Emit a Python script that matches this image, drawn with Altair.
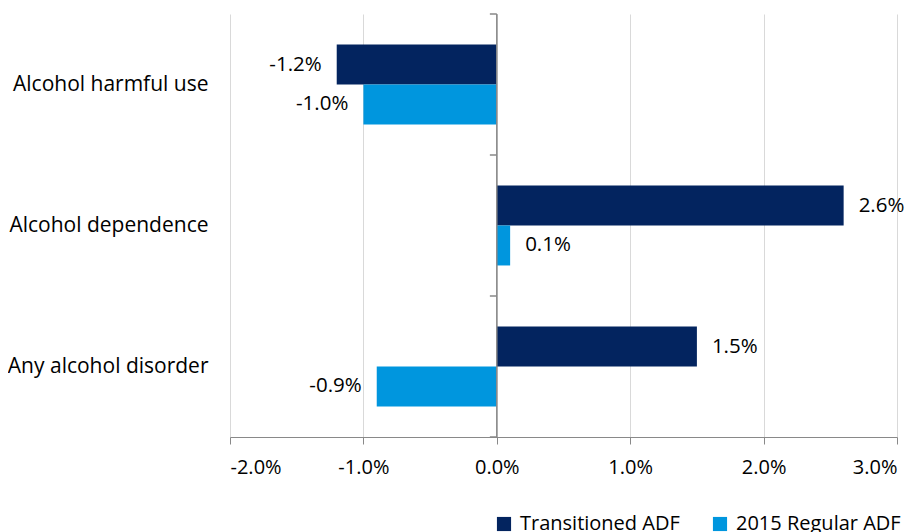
import altair as alt
import pandas as pd

categories = ["Alcohol harmful use", "Alcohol dependence", "Any alcohol disorder"]
series = ["Transitioned ADF", "2015 Regular ADF"]
transitioned = [-1.2, 2.6, 1.5]
regular = [-1.0, 0.1, -0.9]
colors = ["#03245F", "#0096DE"]
x_ticks = [-0.02, -0.01, 0.0, 0.01, 0.02, 0.03]

rows = []
for c, t, r in zip(categories, transitioned, regular):
    rows.append({"category": c, "series": series[0], "value": t / 100, "label": f"{t:.1f}%"})
    rows.append({"category": c, "series": series[1], "value": r / 100, "label": f"{r:.1f}%"})
df = pd.DataFrame(rows)

FONT = "Open Sans"
FS_AX = 20
FS_CAT = 21
FS_LBL = 20.5
FS_LEG = 20

xenc = alt.X(
    "value:Q",
    scale=alt.Scale(domain=[-0.02, 0.03], nice=False, zero=False),
    axis=alt.Axis(
        values=x_ticks, title=None, grid=True, gridColor="#d9d9d9",
        labelExpr="replace(format(datum.value, '.1%'), '\u2212', '-')",
        domainColor="#898989", tickColor="#898989", tickSize=7, labelPadding=13,
        labelFont=FONT, labelFontSize=FS_AX, labelColor="#000000",
    ),
)
yenc = alt.Y(
    "category:N", sort=categories,
    scale=alt.Scale(paddingInner=0.433, paddingOuter=0.2165),
    axis=alt.Axis(
        title=None, domain=False, ticks=False, labelPadding=22, labelFont=FONT,
        labelFontSize=FS_CAT, labelColor="#000000", grid=False, labelLimit=400,
    ),
)
yoff = alt.YOffset("series:N", sort=series, scale=alt.Scale(paddingInner=0, paddingOuter=0))

base = alt.Chart(df)

bars = base.mark_bar().encode(
    x=xenc,
    y=yenc,
    yOffset=yoff,
    color=alt.Color(
        "series:N", sort=series,
        scale=alt.Scale(domain=series, range=colors),
        legend=alt.Legend(
            title=None, orient="none", legendX=264, legendY=500, direction="horizontal",
            symbolType="square", symbolSize=200, symbolStrokeWidth=0, labelFont=FONT,
            labelFontSize=FS_LEG, labelColor="#000000", columnPadding=30, labelOffset=6,
            labelLimit=400,
        ),
    ),
)

pos_text = base.transform_filter("datum.value >= 0").mark_text(
    align="left", baseline="middle", dx=15, font=FONT, fontSize=FS_LBL, color="#000000"
).encode(x="value:Q", y=alt.Y("category:N", sort=categories), yOffset=yoff, text="label:N")

neg_text = base.transform_filter("datum.value < 0").mark_text(
    align="right", baseline="middle", dx=-15, font=FONT, fontSize=FS_LBL, color="#000000"
).encode(x="value:Q", y=alt.Y("category:N", sort=categories), yOffset=yoff, text="label:N")

main = alt.layer(bars, pos_text, neg_text)

zero_line = alt.Chart(pd.DataFrame({"z": [0.0]})).mark_rule(color="#898989", strokeWidth=1.5).encode(
    x=alt.X("z:Q")
)

bounds = pd.DataFrame({"b": [0, 1, 2, 3], "x0": [0.0] * 4, "x1": [-0.00052] * 4})
zero_ticks = alt.Chart(bounds).mark_rule(color="#898989", strokeWidth=1.5).encode(
    x="x0:Q", x2="x1:Q",
    y=alt.Y("b:Q", scale=alt.Scale(domain=[3, 0], nice=False, zero=False), axis=None),
)

chart = (
    alt.layer(main, zero_line, zero_ticks)
    .resolve_scale(y="independent")
    .properties(
        width=667, height=423,
        autosize=alt.AutoSizeParams(type="none"),
        padding={"left": 222, "top": 6, "right": 18, "bottom": 95},
    )
    .configure_view(stroke=None)
)

chart.save("out.html", embed_options={"renderer": "svg", "actions": False})
